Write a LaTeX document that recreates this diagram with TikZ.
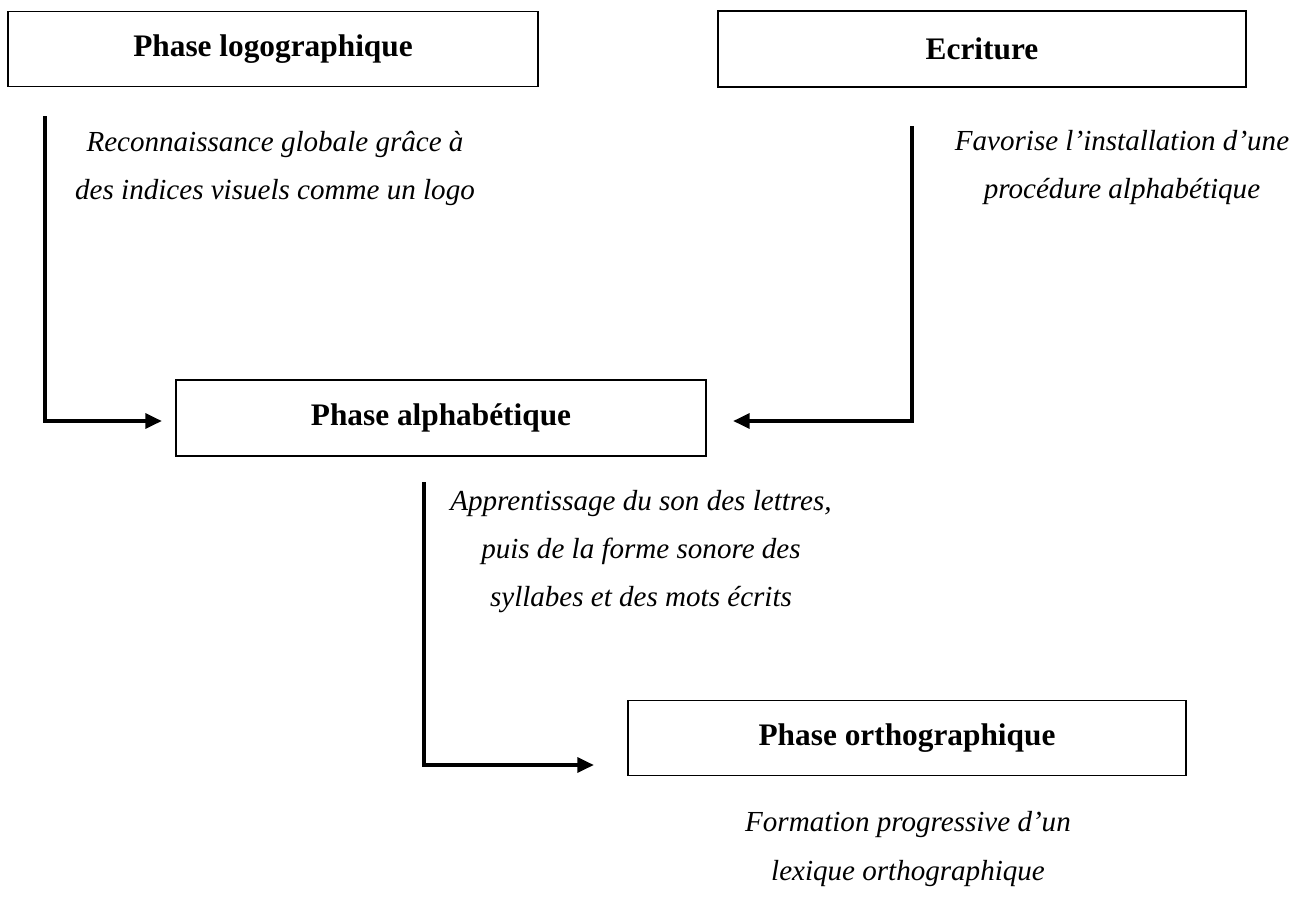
\documentclass[tikz,border=0pt]{standalone}
\usepackage{fontspec}
\setmainfont{Liberation Serif}
\usetikzlibrary{arrows.meta}
\begin{document}
\begin{tikzpicture}[x=0.75pt,y=-0.75pt,
  box/.style={draw, line width=0.8pt, inner sep=0pt, font=\bfseries\fontsize{23.5}{26}\selectfont},
  note/.style={align=center, inner sep=0pt, font=\itshape\fontsize{21.8}{36}\selectfont},
  arr/.style={line width=3pt, -{Triangle[length=12.5pt,width=11pt]}}]
\useasboundingbox (0,0) rectangle (1310,910);
\node[box, minimum width=397.5pt, minimum height=56.25pt] (logo) at (273,49) {Phase logographique};
\node[box, minimum width=396pt, minimum height=57pt] (ecr) at (982,49) {Ecriture};
\node[box, minimum width=397.5pt, minimum height=57pt] (alpha) at (441,418) {Phase alphabétique};
\node[box, minimum width=418.5pt, minimum height=56.25pt] (ortho) at (907,738) {Phase orthographique};
\node[note] (n1) at (275,168) {Reconnaissance globale grâce à\\des indices visuels comme un logo};
\node[note] (n2) at (1122,168) {Favorise l’installation d’une\\procédure alphabétique};
\node[note] (n3) at (641,552) {Apprentissage du son des lettres,\\puis de la forme sonore des\\syllabes et des mots écrits};
\node[note] (n4) at (908,849) {Formation progressive d’un\\lexique orthographique};
\coordinate (l1) at (45,116);
\coordinate (l2) at (162,421);
\coordinate (r1) at (912,126);
\coordinate (r2) at (733,421);
\coordinate (b1) at (424,482);
\coordinate (b2) at (594,765);
\draw[arr] (l1) |- (l2);
\draw[arr] (r1) |- (r2);
\draw[arr] (b1) |- (b2);
\end{tikzpicture}
\end{document}
